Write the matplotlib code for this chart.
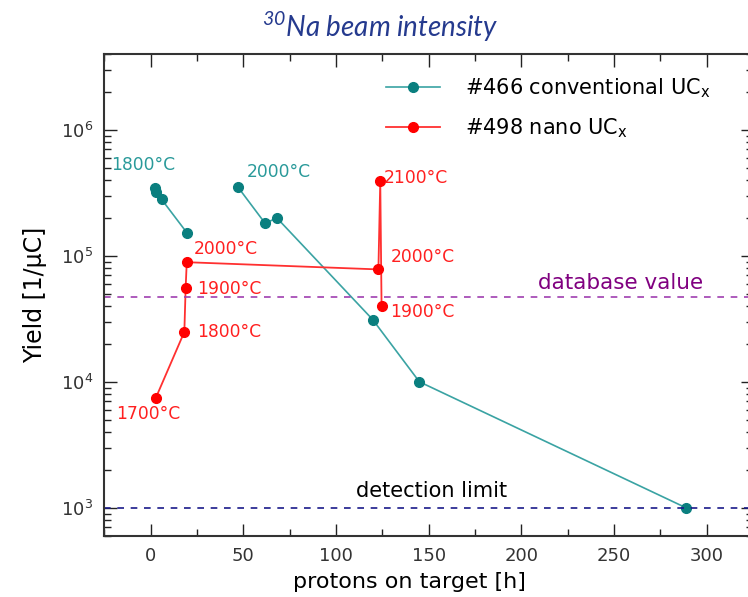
import matplotlib.pyplot as plt
import numpy as np
from matplotlib.ticker import LogLocator, MultipleLocator, LogFormatterMathtext, NullFormatter

plt.rcParams['mathtext.default'] = 'regular'
plt.rcParams['font.family'] = ['DejaVu Sans']

# #466 conventional UCx (two runs, not connected)
conv1_h = [2.2, 2.7, 5.9, 19.8]
conv1_y = [3.43e5, 3.23e5, 2.81e5, 1.51e5]
conv2_h = [47.2, 61.8, 68.1, 119.8, 145.0, 288.8]
conv2_y = [3.50e5, 1.81e5, 2.00e5, 3.12e4, 1.0e4, 1.0e3]

# #498 nano UCx
nano_h = [2.9, 18.2, 18.9, 19.5, 122.9, 123.9, 124.6]
nano_y = [7.5e3, 2.49e4, 5.57e4, 8.9e4, 7.8e4, 3.93e5, 4.0e4]

# temperature labels (x, y, text)
conv_labels = [(-21.5, 5.26e5, '1800°C'), (52, 4.6e5, '2000°C')]
nano_labels = [(23.4, 1.13e5, '2000°C'), (25, 5.5e4, '1900°C'), (25, 2.47e4, '1800°C'),
               (-18.8, 5.6e3, '1700°C'), (125.6, 4.15e5, '2100°C'),
               (129.4, 9.8e4, '2000°C'), (129.4, 3.56e4, '1900°C')]

database_value = 4.72e4
detection_limit = 1.0e3

fig = plt.figure(figsize=(7.48, 5.97), dpi=100)
ax = fig.add_axes([0.1394, 0.1027, 0.8673, 0.8068])

teal = dict(color='#3aa3a3', lw=1.2, ms=7, mfc='#0a7f7f', mec='#0a7f7f')
ax.plot(conv1_h, conv1_y, '-o', label=r'#466 conventional UC$_{x}$', **teal)
ax.plot(conv2_h, conv2_y, '-o', **teal)
ax.plot(nano_h, nano_y, '-o', color='#ff3030', lw=1.3, ms=7,
        mfc='#ff0000', mec='#ff0000', label=r'#498 nano UC$_{x}$')

ax.axhline(database_value, color='#a040b0', ls=(0, (4, 4)), lw=1.2)
ax.axhline(detection_limit, color='#1a1a8a', ls=(0, (4, 4)), lw=1.2)
ax.text(208.8, 6.07e4, 'database value', color='#800080', fontsize=15.5, va='center')
ax.text(151.5, 1.37e3, 'detection limit', color='black', fontsize=15, va='center', ha='center')

for x, y, s in conv_labels:
    ax.text(x, y, s, color='#2a9a9a', fontsize=12.3, va='center')
for x, y, s in nano_labels:
    ax.text(x, y, s, color='#ff2020', fontsize=12.3, va='center')

ax.set_yscale('log')
ax.set_xlim(-25, 325)
ax.set_ylim(600, 4e6)
ax.xaxis.set_major_locator(MultipleLocator(50))
ax.xaxis.set_minor_locator(MultipleLocator(25))
ax.yaxis.set_major_locator(LogLocator(base=10))
ax.yaxis.set_minor_locator(LogLocator(base=10, subs=np.arange(2, 10)))
ax.yaxis.set_major_formatter(LogFormatterMathtext())
ax.yaxis.set_minor_formatter(NullFormatter())
ax.tick_params(which='both', direction='in', top=True, right=True, colors='#222222',
               labelsize=13, labelcolor='#333333', pad=8)
ax.tick_params(which='major', length=9, width=1)
ax.tick_params(which='minor', length=5, width=1)
for sp in ax.spines.values():
    sp.set_linewidth(1.5)
    sp.set_color('#333333')

ax.set_xlabel('protons on target [h]', fontsize=16)
ax.xaxis.set_label_coords(0.471, -0.075)
ax.set_ylabel('Yield [1/μC]', fontsize=17, labelpad=10)

ax.legend(loc='upper left', bbox_to_anchor=(386 / 748, 1 - 76 / 597),
          bbox_transform=fig.transFigure, frameon=False, borderpad=0, borderaxespad=0,
          fontsize=15, handlelength=2.6, handletextpad=1.2, labelspacing=0.8)

fig.text(0.508, 0.955, r'$^{30}$Na beam intensity', color='#253a8e', fontsize=20,
         style='italic', family='Lato', ha='center', va='center')

fig.savefig('out.png', dpi=100)
